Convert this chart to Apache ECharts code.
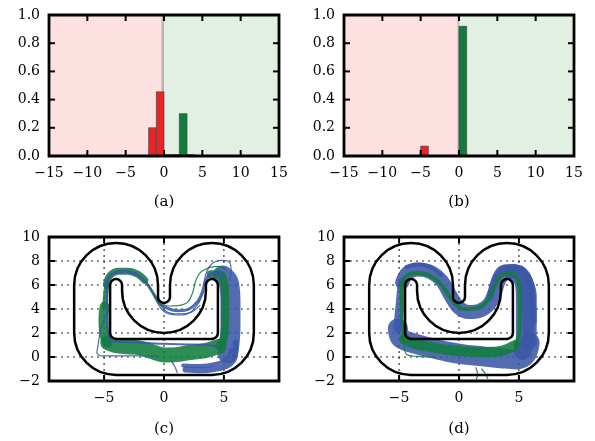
<!DOCTYPE html>
<html>
<head>
<meta charset="utf-8">
<script src="https://cdn.jsdelivr.net/npm/echarts@6/dist/echarts.min.js"></script>
<style>
  html, body { margin: 0; padding: 0; background: #fff; }
  #chart { width: 595px; height: 441px; }
</style>
</head>
<body>
<div id="chart"></div>
<script>
// histogram bins: [left, right, height]
const histA_red = [[-2, -1, 0.20], [-1, 0, 0.455]]
const histA_green = [[0, 1, 0.01], [1, 2, 0.01], [2, 3, 0.30], [3, 4, 0.01]]
const histB_red = [[-5, -4, 0.07]]
const histB_green = [[0, 1, 0.92]]
// shaded halves of the histogram panels: [left, right]
const histBgNeg = [[-15, 0]]
const histBgPos = [[0, 15]]
const histZero = [0]
const histXTicks = [-15, -10, -5, 0, 5, 10, 15]
const histYTicks = [0, 0.2, 0.4, 0.6, 0.8, 1.0]

// track geometry: arcs [cx, cy, r, fromDeg, toDeg], straight pieces [x1, y1, x2, y2]
const trackArcs = [
  [-4, 6, 3.5, 0, 180], [-4, 2, 3.5, 180, 270], [4, 2, 3.5, 270, 360], [4, 6, 3.5, 0, 180],
  [0, 5, 0.5, 180, 360],
  [-4, 6, 0.5, 0, 180], [-4, 2, 0.5, 180, 270], [4, 2, 0.5, 270, 360], [4, 6, 0.5, 0, 180],
  [0, 5.5, 3.5, 180, 360]
]
const trackSegments = [
  [-7.5, 6, -7.5, 2], [-4, -1.5, 4, -1.5], [7.5, 2, 7.5, 6], [0.5, 6, 0.5, 5], [-0.5, 5, -0.5, 6],
  [-4.5, 6, -4.5, 2], [-4, 1.5, 4, 1.5], [4.5, 2, 4.5, 6], [3.5, 6, 3.5, 5.5], [-3.5, 5.5, -3.5, 6]
]
const trackXTicks = [-5, 0, 5]
const trackYTicks = [-2, 0, 2, 4, 6, 8, 10]
const trackGridY = [0, 2, 4, 6, 8]

// (c) trajectories
const cBlueRight = [[4.9, 6.8], [5.4, 6.2], [5.55, 4.5], [5.55, 2.5], [5.45, 1.0], [5.3, 0.3]]
const cBlueCorner = [[6.0, 1.2], [5.9, 0.0], [5.3, -0.7], [4.2, -1.0], [3.0, -1.1], [1.8, -1.05]]
const cBlueCorner2 = [[5.6, 0.6], [5.2, -0.2], [4.2, -0.6], [3.0, -0.75], [1.6, -0.7]]
const cBlueTail = [[0.6, -0.3], [0.9, -0.8], [1.1, -1.3]]
const cGreenBottom = [[4.6, 0.9], [3.5, 0.55], [2.0, 0.35], [1.0, 0.2], [0, 0.17], [-1.0, 0.45], [-2.0, 0.75], [-3.0, 0.85], [-4.0, 0.95], [-4.7, 1.2]]
const cGreenLeft = [[-4.7, 1.2], [-5.0, 2.0], [-5.05, 3.2], [-4.95, 4.2]]
const cGreenLeftUp = [[-4.95, 4.2], [-4.85, 5.4], [-4.75, 6.2]]
const cGreenTop = [[-4.8, 6.1], [-4.5, 6.8], [-3.8, 7.15], [-3.0, 7.15], [-2.2, 6.9], [-1.6, 6.4]]
const cGreenRight = [[3.9, 6.9], [4.6, 6.9], [5.0, 6.3], [5.1, 5.0], [5.1, 3.0], [5.0, 1.6], [4.6, 0.9]]
const cBlueArc = [[-4.85, 5.8], [-4.7, 6.5], [-4.2, 7.0], [-3.3, 7.15], [-2.3, 6.9], [-1.5, 6.2], [-0.9, 5.3], [-0.4, 4.5], [0.3, 4.05], [1.2, 3.85], [2.1, 4.0], [2.8, 4.6], [3.2, 5.4], [3.45, 6.3], [3.8, 6.85], [4.4, 7.0], [4.9, 6.8]]
const cBlueLow1 = [[-0.9, 5.3], [-0.2, 4.0], [0.6, 3.55], [1.5, 3.5], [2.3, 3.8], [2.9, 4.5], [3.3, 5.5]]
const cBlueLow2 = [[-0.6, 4.8], [0.2, 3.8], [1.2, 3.6], [2.2, 3.7], [3.0, 4.3]]
const cGreenWide = [[-1.5, 6.3], [-0.8, 5.2], [-0.3, 4.4], [0.4, 4.25], [1.3, 4.3], [2.0, 4.6], [2.4, 5.4], [2.7, 6.5], [3.1, 7.1], [3.8, 7.45], [4.6, 7.55], [5.2, 7.3]]
const cBlueLoop = [[3.3, 6.0], [3.6, 7.2], [4.1, 7.85], [4.8, 8.05], [5.4, 7.95], [5.6, 7.3], [5.5, 6.4]]
const cBlueWall = [[-4.75, 6.0], [-4.75, 4.0], [-4.7, 2.2], [-4.4, 1.35], [-3.5, 1.25], [-2.0, 1.2], [0, 1.1], [2.0, 1.05], [3.5, 1.0], [4.6, 0.9]]
const cBlueStray = [[-4.9, 3.4], [-5.3, 2.2], [-5.5, 1.0], [-5.6, 0.35], [-5.3, 0.1], [-3.0, 0.1], [-0.5, 0.1]]

// (d) trajectories
const dBlueBottom = [[5.9, 1.2], [5.6, 0.2], [4.8, -0.2], [3.5, -0.1], [2.0, 0.05], [0.5, 0.2], [-1.0, 0.45], [-2.5, 0.8], [-4.0, 1.2], [-4.9, 1.6], [-5.1, 2.4]]
const dBlueLeft = [[-5.1, 2.4], [-5.0, 3.5], [-4.85, 5.0], [-4.75, 6.2]]
const dBlueTop = [[-4.75, 6.2], [-4.3, 7.0], [-3.4, 7.3], [-2.3, 7.05], [-1.4, 6.3], [-0.7, 5.1], [0.0, 4.1], [0.8, 3.75], [1.7, 3.85], [2.5, 4.4], [3.0, 5.4], [3.4, 6.5], [4.0, 7.1], [4.9, 7.1], [5.6, 6.3], [5.8, 5.0], [5.9, 3.0], [5.9, 1.2]]
const dBlueRight = [[4.6, 7.0], [5.3, 6.5], [5.5, 5.0], [5.5, 3.0], [5.5, 1.5], [5.3, 0.5]]
const dBlueOuter = [[2.6, 5.0], [3.0, 6.5], [3.5, 7.3], [4.3, 7.45], [5.2, 7.2], [5.9, 6.3], [6.2, 5.0], [6.2, 3.0]]
const dBlueUpper = [[-4.4, 7.5], [-3.4, 7.7], [-2.4, 7.5], [-1.5, 6.8]]
const dGreenTop = [[-4.8, 6.1], [-4.4, 6.75], [-3.6, 7.0], [-2.6, 6.85], [-1.6, 6.2], [-0.9, 5.2], [-0.3, 4.4], [0.5, 4.0], [1.4, 4.05], [2.3, 4.6], [2.9, 5.7], [3.3, 6.5], [3.9, 6.95], [4.6, 6.85], [5.0, 6.0], [5.1, 4.0], [5.05, 2.0], [4.7, 1.0]]
const dGreenBottom = [[4.7, 1.0], [3.5, 0.5], [2.0, 0.4], [0.5, 0.45], [-1.0, 0.6], [-2.5, 0.85], [-3.8, 1.1], [-4.6, 1.5]]
const dGreenLeft = [[-4.6, 1.5], [-4.75, 3.0], [-4.8, 4.5], [-4.8, 6.1]]
const dGreenStray = [[-4.7, 2.0], [-4.6, 0.9], [-4.35, 0.2], [-3.5, 0.05], [-2.0, 0.0]]
const dGreenCrash1 = [[1.4, -0.9], [1.55, -1.4], [1.45, -1.9]]
const dGreenCrash2 = [[1.9, -1.0], [2.2, -1.4], [2.4, -1.8]]

const panelLabels = ['(a)', '(b)', '(c)', '(d)']

const FONT = 'DejaVu Serif'
const RED = '#ec2227'
const GREEN = '#117c3d'
const BLUE = '#3b58a6'

const grids = [
  { left: 49, top: 15, width: 230, height: 141 },
  { left: 344, top: 15, width: 230, height: 141 },
  { left: 49, top: 237, width: 230, height: 144 },
  { left: 344, top: 237, width: 230, height: 144 }
]

const minus = (v) => String(v).replace('-', '\u2212')
const labelStyle = { color: '#000', fontFamily: FONT, fontSize: 14 }

const xAxis = []
const yAxis = []
grids.forEach((g, gi) => {
  const hist = gi < 2
  const xBase = hist ? { min: -15, max: 15, interval: 5 } : { min: -9.6, max: 9.6 }
  const yBase = hist ? { min: 0, max: 1, interval: 0.2 } : { min: -2, max: 10, interval: 2 }
  xAxis.push({
    type: 'value', gridIndex: gi, position: 'bottom', ...xBase,
    axisLine: { show: false, onZero: false }, axisTick: { show: false }, splitLine: { show: false },
    axisLabel: { ...labelStyle, margin: 10, formatter: minus, ...(hist ? {} : { customValues: trackXTicks }) }
  })
  yAxis.push({
    type: 'value', gridIndex: gi, position: 'left', ...yBase,
    axisLine: { show: false, onZero: false }, axisTick: { show: false }, splitLine: { show: false },
    axisLabel: { ...labelStyle, margin: 9, formatter: (v) => hist ? v.toFixed(1) : minus(v) }
  })
})

const series = []

function spans(gi, data, color) {
  series.push({
    type: 'custom', xAxisIndex: gi, yAxisIndex: gi, z: 1, silent: true,
    data,
    renderItem: (params, api) => {
      const p0 = api.coord([api.value(0), 1])
      const p1 = api.coord([api.value(1), 0])
      return { type: 'rect', shape: { x: p0[0], y: p0[1], width: p1[0] - p0[0], height: p1[1] - p0[1] }, style: { fill: color } }
    }
  })
}

function zeroLine(gi, width) {
  series.push({
    type: 'custom', xAxisIndex: gi, yAxisIndex: gi, z: 2, silent: true,
    data: histZero.map((v) => [v]),
    renderItem: (params, api) => {
      const a = api.coord([api.value(0), 1])
      const b = api.coord([api.value(0), 0])
      return { type: 'line', shape: { x1: a[0] - width / 2, y1: a[1], x2: b[0] - width / 2, y2: b[1] }, style: { stroke: 'rgba(140,140,140,0.55)', lineWidth: width } }
    }
  })
}

function bars(gi, data, color) {
  series.push({
    type: 'custom', xAxisIndex: gi, yAxisIndex: gi, z: 3, silent: true,
    data,
    renderItem: (params, api) => {
      const p0 = api.coord([api.value(0), api.value(2)])
      const p1 = api.coord([api.value(1), 0])
      return {
        type: 'rect',
        shape: { x: p0[0], y: p0[1], width: p1[0] - p0[0], height: p1[1] - p0[1] },
        style: { fill: color, stroke: 'rgba(70,70,70,0.7)', lineWidth: 1 }
      }
    }
  })
}

// black box and inward ticks on all four sides, drawn above the data
function frame(gi, xTicks, yTicks) {
  const tickLen = 6
  const tickStyle = () => ({ stroke: '#000', lineWidth: 2 })
  series.push({
    type: 'custom', xAxisIndex: gi, yAxisIndex: gi, z: 30, silent: true,
    data: xTicks.map((v) => [0, v]).concat(yTicks.map((v) => [1, v])),
    renderItem: (params, api) => {
      const cs = params.coordSys
      const v = api.value(1)
      if (api.value(0) === 0) {
        const x = api.coord([v, yTicks[0]])[0]
        return {
          type: 'group',
          children: [
            { type: 'line', shape: { x1: x, y1: cs.y + cs.height, x2: x, y2: cs.y + cs.height - tickLen }, style: tickStyle() },
            { type: 'line', shape: { x1: x, y1: cs.y, x2: x, y2: cs.y + tickLen }, style: tickStyle() }
          ]
        }
      }
      const y = api.coord([xTicks[0], v])[1]
      return {
        type: 'group',
        children: [
          { type: 'line', shape: { x1: cs.x, y1: y, x2: cs.x + tickLen, y2: y }, style: tickStyle() },
          { type: 'line', shape: { x1: cs.x + cs.width, y1: y, x2: cs.x + cs.width - tickLen, y2: y }, style: tickStyle() }
        ]
      }
    }
  })
  series.push({
    type: 'custom', xAxisIndex: gi, yAxisIndex: gi, z: 31, silent: true,
    data: [[0]],
    renderItem: (params) => {
      const cs = params.coordSys
      return { type: 'rect', shape: { x: cs.x, y: cs.y, width: cs.width, height: cs.height }, style: { fill: null, stroke: '#000', lineWidth: 2.8 } }
    }
  })
}

spans(0, histBgNeg, '#fde1e1')
spans(0, histBgPos, '#e2f0e3')
spans(1, histBgNeg, '#fde1e1')
spans(1, histBgPos, '#e2f0e3')
zeroLine(0, 2.5)
zeroLine(1, 1.5)
bars(0, histA_red, RED)
bars(0, histA_green, GREEN)
bars(1, histB_red, RED)
bars(1, histB_green, GREEN)

function gridLines(gi) {
  const data = trackXTicks.map((v) => [0, v]).concat(trackGridY.map((v) => [1, v]))
  series.push({
    type: 'custom', xAxisIndex: gi, yAxisIndex: gi, z: 1, silent: true,
    data,
    renderItem: (params, api) => {
      const cs = params.coordSys
      const v = api.value(1)
      let shape
      if (api.value(0) === 0) {
        const x = api.coord([v, 0])[0]
        shape = { x1: x, y1: cs.y, x2: x, y2: cs.y + cs.height }
      } else {
        const y = api.coord([0, v])[1]
        shape = { x1: cs.x, y1: y, x2: cs.x + cs.width, y2: y }
      }
      return { type: 'line', shape, style: { stroke: '#222', lineWidth: 1.1, lineDash: [2, 4] } }
    }
  })
}

function traj(gi, pts, color, width, opacity) {
  series.push({
    type: 'line', xAxisIndex: gi, yAxisIndex: gi, z: 3, silent: true,
    data: pts, symbol: 'none', showSymbol: false, smooth: 0.35,
    lineStyle: { color, width, opacity: opacity ?? 0.88, cap: 'round', join: 'round' }
  })
}

function track(gi) {
  series.push({
    type: 'custom', xAxisIndex: gi, yAxisIndex: gi, z: 5, silent: true,
    data: trackArcs,
    renderItem: (params, api) => {
      const c = api.coord([api.value(0), api.value(1)])
      const r = api.size([api.value(2), 0])[0]
      return {
        type: 'arc',
        shape: { cx: c[0], cy: c[1], r, startAngle: -api.value(3) * Math.PI / 180, endAngle: -api.value(4) * Math.PI / 180, clockwise: false },
        style: { stroke: '#000', fill: null, lineWidth: 2.5 }
      }
    }
  })
  series.push({
    type: 'custom', xAxisIndex: gi, yAxisIndex: gi, z: 5, silent: true,
    data: trackSegments,
    renderItem: (params, api) => {
      const a = api.coord([api.value(0), api.value(1)])
      const b = api.coord([api.value(2), api.value(3)])
      return { type: 'line', shape: { x1: a[0], y1: a[1], x2: b[0], y2: b[1] }, style: { stroke: '#000', lineWidth: 2.5, lineCap: 'round' } }
    }
  })
}

// (c)
gridLines(2)
traj(2, cBlueRight, BLUE, 20)
traj(2, cBlueCorner, BLUE, 6)
traj(2, cBlueCorner2, BLUE, 4)
traj(2, cBlueTail, BLUE, 1.2)
traj(2, cGreenBottom, GREEN, 15)
traj(2, cGreenLeft, GREEN, 10)
traj(2, cGreenLeftUp, GREEN, 5)
traj(2, cGreenTop, GREEN, 7)
traj(2, cGreenRight, GREEN, 8)
traj(2, cBlueArc, BLUE, 3)
traj(2, cBlueLow1, BLUE, 1.2)
traj(2, cBlueLow2, BLUE, 1.2)
traj(2, cGreenWide, GREEN, 1.2)
traj(2, cBlueLoop, BLUE, 1.2)
traj(2, cBlueWall, BLUE, 2)
traj(2, cBlueStray, BLUE, 1.2)
track(2)

// (d)
gridLines(3)
traj(3, dBlueBottom, BLUE, 20)
traj(3, dBlueLeft, BLUE, 9)
traj(3, dBlueTop, BLUE, 14)
traj(3, dBlueUpper, BLUE, 4)
traj(3, dBlueRight, BLUE, 18)
traj(3, dBlueOuter, BLUE, 7)
traj(3, dGreenTop, GREEN, 4)
traj(3, dGreenBottom, GREEN, 10)
traj(3, dGreenLeft, GREEN, 3)
traj(3, dGreenStray, GREEN, 1.2)
traj(3, dGreenCrash1, GREEN, 1.2)
traj(3, dGreenCrash2, GREEN, 1.2)
track(3)

frame(0, histXTicks, histYTicks)
frame(1, histXTicks, histYTicks)
frame(2, trackXTicks, trackYTicks)
frame(3, trackXTicks, trackYTicks)

const labelPos = [[164, 202], [459, 202], [164, 429], [459, 429]]
const graphic = panelLabels.map((text, i) => ({
  type: 'text', x: labelPos[i][0], y: labelPos[i][1], z: 20,
  style: { text, fill: '#000', font: `15px "${FONT}"`, textAlign: 'center', textVerticalAlign: 'middle' }
}))

const chart = echarts.init(document.getElementById('chart'), null, { renderer: 'canvas' })
chart.setOption({
  animation: false,
  backgroundColor: '#fff',
  grid: grids,
  xAxis,
  yAxis,
  series,
  graphic
})
</script>
</body>
</html>
